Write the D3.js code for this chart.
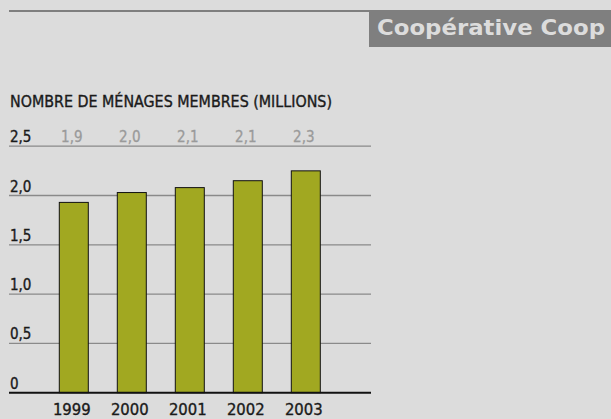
<!DOCTYPE html>
<html><head><meta charset="utf-8">
<script src="https://cdn.jsdelivr.net/npm/d3@7"></script>
<style>
html,body{margin:0;padding:0;background:#dcdcdc;}
svg{display:block;}
</style></head>
<body>
<script>
const years = ["1999","2000","2001","2002","2003"];
const values = [1.93, 2.03, 2.08, 2.15, 2.25];
const valueLabels = ["1,9","2,0","2,1","2,1","2,3"];
const yTicks = [0, 0.5, 1.0, 1.5, 2.0, 2.5];
const yTickLabels = ["0","0,5","1,0","1,5","2,0","2,5"];
const title = "Coopérative Coop";
const subtitle = "NOMBRE DE MÉNAGES MEMBRES (MILLIONS)";

const W = 611, H = 419;
const svg = d3.select("body").append("svg").attr("width", W).attr("height", H);
svg.append("rect").attr("width", W).attr("height", H).attr("fill", "#dcdcdc");

const condFont = "'Liberation Sans Narrow','DejaVu Sans Condensed','Roboto',sans-serif";

// header
svg.append("line").attr("x1", 9).attr("x2", 370).attr("y1", 11).attr("y2", 11)
  .attr("stroke", "#7f7f7f").attr("stroke-width", 2);
svg.append("rect").attr("x", 369).attr("y", 10).attr("width", W - 369).attr("height", 37)
  .attr("fill", "#7f7f7f");
svg.append("text").attr("x", 377).attr("y", 35).text(title)
  .attr("font-family", "'DejaVu Sans','Open Sans',sans-serif").attr("font-weight", "bold")
  .attr("font-size", 22).attr("fill", "#dcdcdc")
  .attr("textLength", 228).attr("lengthAdjust", "spacingAndGlyphs");

svg.append("text").attr("x", 10).attr("y", 107).text(subtitle)
  .attr("font-family", condFont).attr("font-size", 15.5).attr("fill", "#1a1a1a")
  .attr("stroke", "#1a1a1a").attr("stroke-width", 0.35)
  .attr("textLength", 322).attr("lengthAdjust", "spacingAndGlyphs");

const y = d3.scaleLinear().domain([0, 2.5]).range([392.7, 146.2]);
const x = d3.scaleBand().domain(years).range([30.3, 320.3 + 29.0]).paddingInner(29/58).paddingOuter(29/58);

// gridlines
const gy = svg.append("g");
gy.selectAll("line.grid").data(yTicks.filter(d=>d>0)).enter().append("line")
  .attr("x1", 9).attr("x2", 371).attr("y1", d=>y(d)).attr("y2", d=>y(d))
  .attr("stroke", "#8a8a8a").attr("stroke-width", 1.3);
gy.selectAll("text.tl").data(yTicks).enter().append("text")
  .attr("x", 10).attr("y", d=>y(d) - 4).text((d,i)=>yTickLabels[i])
  .attr("font-family", condFont).attr("font-size", 15).attr("fill", "#1a1a1a")
  .attr("stroke", "#1a1a1a").attr("stroke-width", 0.35);

// bars
svg.selectAll("rect.bar").data(values).enter().append("rect")
  .attr("x", (d,i)=>x(years[i])).attr("width", x.bandwidth())
  .attr("y", d=>y(d)).attr("height", d=>y(0)-y(d))
  .attr("fill", "#a1a821").attr("stroke", "#111").attr("stroke-width", 1);

// baseline
svg.append("line").attr("x1", 9).attr("x2", 371).attr("y1", y(0)).attr("y2", y(0))
  .attr("stroke", "#111").attr("stroke-width", 2);

// value labels
svg.selectAll("text.vl").data(valueLabels).enter().append("text")
  .attr("x", (d,i)=>x(years[i]) + x.bandwidth()/2 - 2).attr("y", 142).attr("text-anchor", "middle")
  .text(d=>d).attr("font-family", condFont).attr("font-size", 15).attr("fill", "#9a9a9a")
  .attr("stroke", "#9a9a9a").attr("stroke-width", 0.3);

// x labels
const xAxis = d3.axisBottom(x).tickSize(0);
const gx = svg.append("g").attr("transform", `translate(0,${y(0)})`).call(xAxis);
gx.select(".domain").remove();
gx.selectAll("text").attr("dy", 0).attr("y", 22).attr("x", -2)
  .attr("font-family", condFont).attr("font-size", 16.5).attr("fill", "#1a1a1a")
  .attr("stroke", "#1a1a1a").attr("stroke-width", 0.35);
</script>
</body></html>
